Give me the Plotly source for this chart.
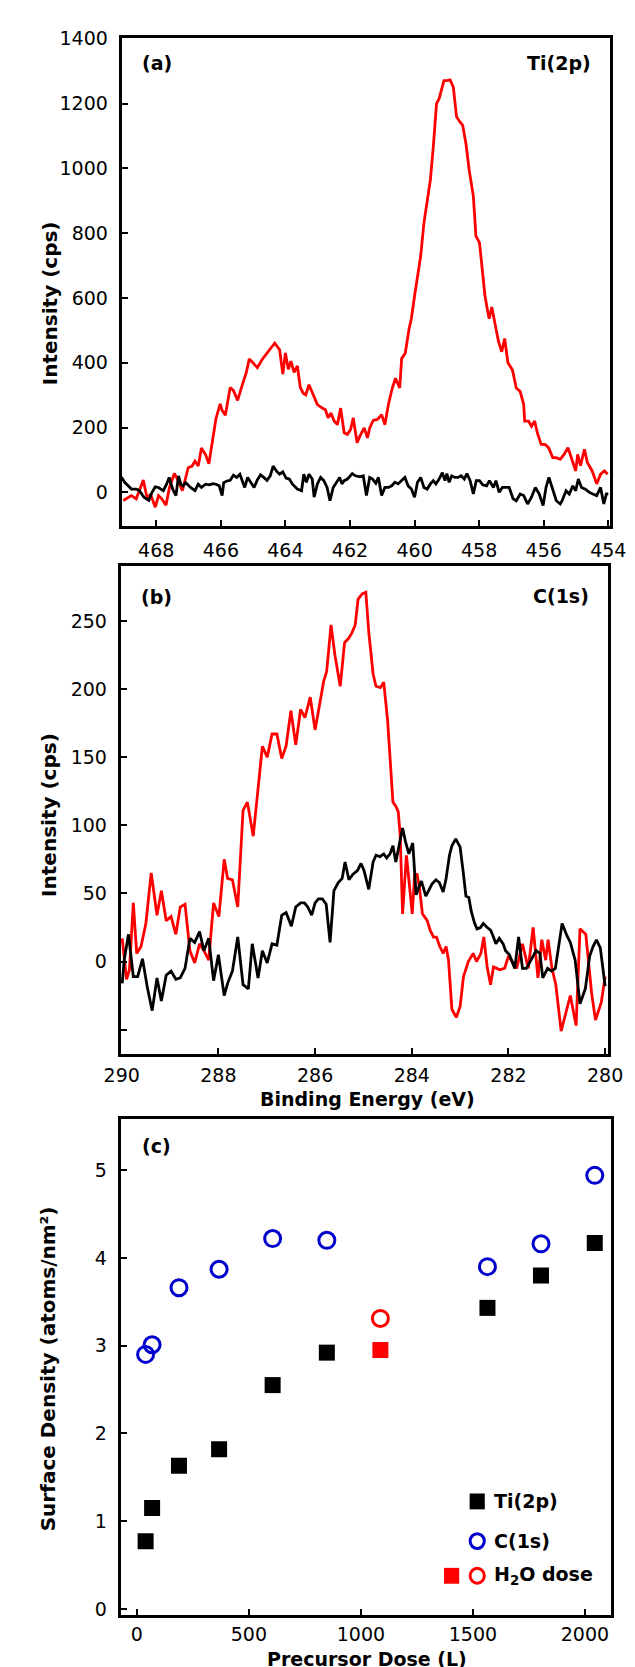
import plotly.graph_objects as go

# ---------------- Panel (a): Ti(2p) ----------------
ti_red_ev = [469.02, 468.77, 468.62, 468.40, 468.28, 468.18, 468.03, 467.93, 467.83, 467.70,
             467.59, 467.44, 467.34, 467.19, 467.01, 466.89, 466.80, 466.70, 466.60, 466.47,
             466.37, 466.25, 466.15, 466.02, 465.96, 465.86, 465.71, 465.61, 465.48, 465.36,
             465.21, 465.12, 465.02, 464.87, 464.72, 464.52, 464.33, 464.18, 464.08, 464.00,
             463.91, 463.83, 463.73, 463.63, 463.54, 463.45, 463.37, 463.27, 463.15, 463.01,
             462.86, 462.76, 462.68, 462.59, 462.49, 462.39, 462.29, 462.18, 462.08, 461.98,
             461.90, 461.78, 461.69, 461.56, 461.46, 461.39, 461.28, 461.15, 461.02, 460.92,
             460.81, 460.69, 460.59, 460.46, 460.40, 460.29, 460.17, 460.10, 460.00, 459.91,
             459.81, 459.71, 459.61, 459.51, 459.42, 459.32, 459.24, 459.14, 459.09, 459.00,
             458.90, 458.80, 458.70, 458.60, 458.51, 458.41, 458.31, 458.18, 458.10, 457.99,
             457.90, 457.82, 457.75, 457.69, 457.61, 457.53, 457.40, 457.30, 457.21, 457.11,
             456.97, 456.85, 456.73, 456.62, 456.59, 456.47, 456.38, 456.28, 456.20, 456.08,
             455.96, 455.85, 455.72, 455.61, 455.49, 455.37, 455.25, 455.13, 455.01, 454.95,
             454.86, 454.74, 454.65, 454.50, 454.36, 454.24, 454.12, 454.02]
ti_red_cps = [-25, -10, -20, 38, -20, -5, -46, -10, -20, -40,
              15, 58, 40, 5, 76, 81, 96, 81, 137, 116,
              88, 157, 228, 273, 253, 238, 324, 314, 284, 324,
              370, 412, 400, 385, 410, 435, 461, 440, 365, 430,
              380, 405, 370, 390, 324, 306, 301, 332, 306, 271,
              260, 255, 230, 245, 220, 209, 260, 184, 179, 194,
              230, 153, 174, 199, 168, 199, 222, 225, 240, 209,
              271, 322, 352, 322, 413, 429, 505, 536, 607, 669,
              730, 832, 893, 965, 1067, 1200, 1215, 1251, 1271, 1271,
              1273, 1251, 1159, 1144, 1133, 1077, 995, 914, 791, 771,
              689, 607, 567, 536, 572, 531, 465, 434, 475, 400,
              378, 322, 311, 271, 220, 220, 204, 220, 184, 148,
              148, 138, 107, 107, 102, 117, 138, 102, 66, 117,
              82, 133, 92, 66, 26, 56, 66, 56]

ti_blk_ev = [469.09, 468.97, 468.87, 468.77, 468.62, 468.52, 468.38, 468.23, 468.13, 468.03,
             467.93, 467.78, 467.68, 467.60, 467.54, 467.47, 467.39, 467.31, 467.24, 467.17,
             467.09, 466.94, 466.80, 466.70, 466.60, 466.47, 466.35, 466.25, 466.15, 466.05,
             465.96, 465.91, 465.81, 465.71, 465.61, 465.51, 465.41, 465.33, 465.26, 465.17,
             465.07, 464.97, 464.87, 464.77, 464.67, 464.57, 464.47, 464.38, 464.28, 464.18,
             464.08, 463.98, 463.88, 463.78, 463.63, 463.50, 463.43, 463.35, 463.27, 463.17,
             463.11, 463.01, 462.91, 462.81, 462.71, 462.62, 462.52, 462.42, 462.32, 462.25,
             462.18, 462.08, 461.93, 461.83, 461.69, 461.59, 461.49, 461.39, 461.30, 461.20,
             461.12, 461.02, 460.92, 460.81, 460.71, 460.61, 460.51, 460.41, 460.30, 460.20,
             460.10, 460.00, 459.91, 459.81, 459.71, 459.61, 459.51, 459.42, 459.34, 459.24,
             459.14, 459.06, 459.00, 458.93, 458.85, 458.75, 458.65, 458.56, 458.46, 458.38,
             458.28, 458.18, 458.09, 457.99, 457.89, 457.77, 457.68, 457.56, 457.48, 457.38,
             457.28, 457.19, 457.07, 456.95, 456.85, 456.73, 456.62, 456.50, 456.38, 456.26,
             456.14, 456.02, 455.93, 455.84, 455.72, 455.61, 455.49, 455.43, 455.31, 455.21,
             455.10, 455.01, 454.93, 454.83, 454.71, 454.59, 454.48, 454.36, 454.24, 454.14,
             454.06, 454.00]
ti_blk_cps = [48, 30, 20, 10, 10, 5, -15, -25, 0, 17,
              15, 5, 25, 46, 25, 5, -10, 51, 25, 20,
              30, 15, 5, 25, 15, 25, 23, 27, 25, 20,
              -10, 30, 35, 37, 53, 46, 56, 35, 15, 46,
              30, 15, 38, 54, 46, 37, 51, 81, 66, 56,
              63, 44, 41, 25, 10, 5, 56, 31, 56, 41,
              -15, 26, 46, 36, 15, -26, 15, 31, 46, 26,
              36, 41, 58, 51, 48, 51, -10, 46, 41, 28,
              46, -10, 15, 15, 20, 31, 26, 36, 46, 20,
              10, -15, 31, 46, 15, 10, 26, 36, 26, 41,
              61, 36, 58, 31, 51, 46, 46, 51, 41, 58,
              36, -5, 36, 36, 23, 20, 36, 15, 36, 0,
              15, 15, 15, -20, -26, -5, -10, -36, -15, 15,
              -5, -41, 15, 46, 5, -26, -36, -26, 5, -5,
              20, 5, 41, 15, 10, 0, -5, -10, 15, -36,
              -5, -5]

# ---------------- Panel (b): C(1s) ----------------
c_red_ev = [289.99, 289.90, 289.84, 289.76, 289.69, 289.60, 289.50, 289.39, 289.27, 289.18,
            289.08, 288.98, 288.88, 288.79, 288.69, 288.59, 288.49, 288.39, 288.30, 288.20,
            288.10, 287.99, 287.88, 287.81, 287.71, 287.60, 287.49, 287.40, 287.28, 287.18,
            287.09, 286.99, 286.89, 286.79, 286.69, 286.60, 286.50, 286.40, 286.30, 286.21,
            286.10, 286.00, 285.90, 285.82, 285.76, 285.67, 285.59, 285.48, 285.39, 285.31,
            285.24, 285.17, 285.11, 285.02, 284.95, 284.89, 284.80, 284.74, 284.65, 284.58,
            284.50, 284.43, 284.39, 284.33, 284.28, 284.24, 284.19, 284.11, 283.99, 283.94,
            283.89, 283.84, 283.78, 283.68, 283.62, 283.55, 283.49, 283.42, 283.35, 283.29,
            283.24, 283.17, 283.08, 283.00, 282.93, 282.83, 282.73, 282.66, 282.57, 282.51,
            282.44, 282.37, 282.31, 282.24, 282.18, 282.08, 282.00, 281.83, 281.71, 281.59,
            281.49, 281.39, 281.31, 281.23, 281.18, 281.10, 281.02, 280.91, 280.81, 280.72,
            280.60, 280.52, 280.40, 280.28, 280.20, 280.08, 280.00]
c_red_cps = [17, -13, -6, 43, 6, 11, 28, 65, 34, 52,
             30, 33, 20, 40, 42, 8, -1, 13, 8, 1,
             43, 33, 75, 61, 60, 40, 111, 117, 92, 128,
             158, 150, 167, 167, 149, 158, 184, 159, 185, 179,
             194, 170, 189, 206, 213, 247, 225, 202, 234, 237,
             241, 247, 266, 270, 271, 242, 211, 202, 201, 205,
             177, 141, 117, 114, 110, 93, 35, 78, 35, 64,
             64, 54, 35, 30, 23, 18, 18, 11, 6, 11,
             1, -35, -41, -33, -11, 0, 6, 0, 6, 18,
             -4, -17, -4, -5, -6, -5, 4, -5, 13, -5,
             25, -12, 16, 1, 16, -5, -17, -51, -37, -25,
             -47, 24, 20, -23, -43, -30, -11]

c_blk_ev = [289.99, 289.95, 289.86, 289.76, 289.67, 289.57, 289.47, 289.37, 289.27, 289.18,
            289.08, 288.98, 288.88, 288.79, 288.69, 288.59, 288.49, 288.39, 288.30, 288.20,
            288.10, 288.00, 287.88, 287.81, 287.71, 287.60, 287.49, 287.38, 287.30, 287.18,
            287.09, 286.99, 286.89, 286.79, 286.69, 286.60, 286.49, 286.40, 286.30, 286.22,
            286.15, 286.07, 286.00, 285.93, 285.85, 285.77, 285.69, 285.61, 285.52, 285.44,
            285.38, 285.30, 285.22, 285.12, 285.05, 284.99, 284.89, 284.80, 284.74, 284.66,
            284.58, 284.52, 284.45, 284.39, 284.33, 284.26, 284.19, 284.13, 284.06, 283.98,
            283.91, 283.86, 283.80, 283.71, 283.65, 283.58, 283.50, 283.43, 283.35, 283.29,
            283.22, 283.17, 283.09, 283.00, 282.93, 282.88, 282.82, 282.77, 282.70, 282.65,
            282.58, 282.52, 282.44, 282.37, 282.32, 282.26, 282.19, 282.11, 282.06, 281.98,
            281.87, 281.79, 281.71, 281.63, 281.52, 281.43, 281.35, 281.29, 281.19, 281.11,
            281.03, 280.95, 280.89, 280.79, 280.72, 280.62, 280.52, 280.41, 280.32, 280.25,
            280.18, 280.10, 280.00]
c_blk_cps = [-16, 1, 20, -11, -11, 2, -19, -36, -12, -29,
             -10, -7, -13, -12, -5, 17, 14, 22, 8, 17,
             -14, 5, -25, -16, -7, 18, -17, -20, 13, -12,
             8, -1, 13, 12, 34, 36, 26, 40, 43, 43,
             40, 34, 43, 46, 46, 42, 14, 52, 58, 61,
             73, 60, 64, 67, 72, 67, 53, 73, 78, 77,
             79, 76, 79, 85, 73, 85, 98, 88, 79, 87,
             49, 54, 59, 48, 52, 57, 60, 58, 51, 61,
             78, 85, 90, 84, 64, 48, 47, 37, 28, 24,
             25, 28, 25, 23, 19, 13, 17, 13, 8, 5,
             -5, 18, -5, -5, 2, 8, 6, -12, -5, -7,
             -5, 13, 28, 19, 14, 1, -31, -20, 4, 11,
             16, 10, -18]

# ---------------- Panel (c): surface density ----------------
dose = [39, 68, 188, 367, 606, 848, 1565, 1804, 2044]
ti_density = [0.77, 1.15, 1.63, 1.82, 2.55, 2.92, 3.43, 3.80, 4.17]
c_density = [2.90, 3.01, 3.66, 3.87, 4.22, 4.20, 3.90, 4.16, 4.94]
h2o_dose = [1087]
h2o_ti = [2.95]
h2o_c = [3.31]

a_yticks = [0, 200, 400, 600, 800, 1000, 1200, 1400]
a_xticks = [468, 466, 464, 462, 460, 458, 456, 454]
b_yticks = [0, 50, 100, 150, 200, 250]
b_minor_yticks = [-50]
b_xticks = [290, 288, 286, 284, 282, 280]
c_yticks = [0, 1, 2, 3, 4, 5]
c_xticks = [0, 500, 1000, 1500, 2000]

W, H = 635, 1667
RED = "#ff0000"
BLUE = "#0000cc"
FONT = "DejaVu Sans"
TICKFONT = dict(family=FONT, size=19, color="black")


def px(x):
    return x / W


def py(y):
    return 1 - y / H


fig = go.Figure()
fig.add_trace(go.Scatter(x=ti_red_ev, y=ti_red_cps, mode="lines",
                         line=dict(color=RED, width=2.8), xaxis="x", yaxis="y"))
fig.add_trace(go.Scatter(x=ti_blk_ev, y=ti_blk_cps, mode="lines",
                         line=dict(color="black", width=2.8), xaxis="x", yaxis="y"))
fig.add_trace(go.Scatter(x=c_red_ev, y=c_red_cps, mode="lines",
                         line=dict(color=RED, width=2.8), xaxis="x2", yaxis="y2"))
fig.add_trace(go.Scatter(x=c_blk_ev, y=c_blk_cps, mode="lines",
                         line=dict(color="black", width=2.8), xaxis="x2", yaxis="y2"))
fig.add_trace(go.Scatter(x=dose, y=ti_density, mode="markers",
                         marker=dict(symbol="square", size=16, color="black"),
                         xaxis="x3", yaxis="y3"))
fig.add_trace(go.Scatter(x=dose, y=c_density, mode="markers",
                         marker=dict(symbol="circle-open", size=16, color=BLUE,
                                     line=dict(width=3, color=BLUE)),
                         xaxis="x3", yaxis="y3"))
fig.add_trace(go.Scatter(x=h2o_dose, y=h2o_ti, mode="markers",
                         marker=dict(symbol="square", size=16, color=RED),
                         xaxis="x3", yaxis="y3"))
fig.add_trace(go.Scatter(x=h2o_dose, y=h2o_c, mode="markers",
                         marker=dict(symbol="circle-open", size=16, color=RED,
                                     line=dict(width=3, color=RED)),
                         xaxis="x3", yaxis="y3"))

axis_common = dict(showline=True, mirror=True, linecolor="black", linewidth=3,
                   ticks="inside", ticklen=6, tickwidth=2, tickcolor="black",
                   showgrid=False, zeroline=False, tickfont=TICKFONT)

fig.update_layout(
    width=W, height=H, margin=dict(l=0, r=0, t=0, b=0),
    paper_bgcolor="white", plot_bgcolor="white", showlegend=False,
    xaxis=dict(domain=[px(102), px(617)], range=[469.07, 453.95], anchor="y",
               tickvals=a_xticks, ticklabelstandoff=5, **axis_common),
    yaxis=dict(domain=[py(512), py(20)], range=[-103, 1403], anchor="x",
               tickvals=a_yticks, ticklabelstandoff=7, **axis_common),
    xaxis2=dict(domain=[px(101), px(615)], range=[290.02, 279.94], anchor="y2",
                tickvals=b_xticks, ticklabelstandoff=2, **axis_common),
    yaxis2=dict(domain=[py(1045), py(553)], range=[-68, 290], anchor="x2",
                tickvals=b_yticks, ticklabelstandoff=7,
                minor=dict(tickvals=b_minor_yticks, ticks="inside", ticklen=6,
                           tickwidth=2, tickcolor="black", showgrid=False),
                **axis_common),
    xaxis3=dict(domain=[px(101), px(618)], range=[-72, 2116], anchor="y3",
                tickvals=c_xticks, ticklabelstandoff=0, **axis_common),
    yaxis3=dict(domain=[py(1611), py(1110)], range=[-0.075, 5.586], anchor="x3",
                tickvals=c_yticks, ticklabelstandoff=7, **axis_common),
)

ann = []


def label(text, x, y, xanchor="left", angle=0, size=19):
    ann.append(dict(text="<b>%s</b>" % text, x=px(x), y=py(y), xref="paper", yref="paper",
                    xanchor=xanchor, yanchor="middle", showarrow=False, textangle=angle,
                    borderpad=0, font=dict(family=FONT, size=size, color="black")))


label("(a)", 122, 45)
label("Ti(2p)", 598, 45, xanchor="right")
label("(b)", 121, 584)
label("C(1s)", 596, 583, xanchor="right")
label("(c)", 122, 1138)
label("Intensity (cps)", 26, 288, xanchor="center", angle=-90, size=20)
label("Intensity (cps)", 26, 804, xanchor="center", angle=-90, size=20)
label("Surface Density (atoms/nm²)", 24, 1362, xanchor="center", angle=-90, size=20)
label("Binding Energy (eV)", 361, 1090, xanchor="center", size=19)
label("Precursor Dose (L)", 361, 1655, xanchor="center", size=19)
label("Ti(2p)", 494, 1496)
label("C(1s)", 494, 1536)
label("H<sub>2</sub>O dose", 494, 1571)
fig.update_layout(annotations=ann)

# legend key symbols
shapes = []


def sq(cx, cy, color, s=16):
    shapes.append(dict(type="rect", xref="paper", yref="paper",
                       x0=px(cx - s / 2), x1=px(cx + s / 2), y0=py(cy + s / 2), y1=py(cy - s / 2),
                       fillcolor=color, line=dict(width=0)))


def circ(cx, cy, color, d=15):
    shapes.append(dict(type="circle", xref="paper", yref="paper",
                       x0=px(cx - d / 2), x1=px(cx + d / 2), y0=py(cy + d / 2), y1=py(cy - d / 2),
                       line=dict(color=color, width=3)))


sq(477, 1496, "black")
circ(477, 1536, BLUE)
sq(450, 1571, RED)
circ(477, 1571, RED)
fig.update_layout(shapes=shapes)

fig.write_html("out.html")
